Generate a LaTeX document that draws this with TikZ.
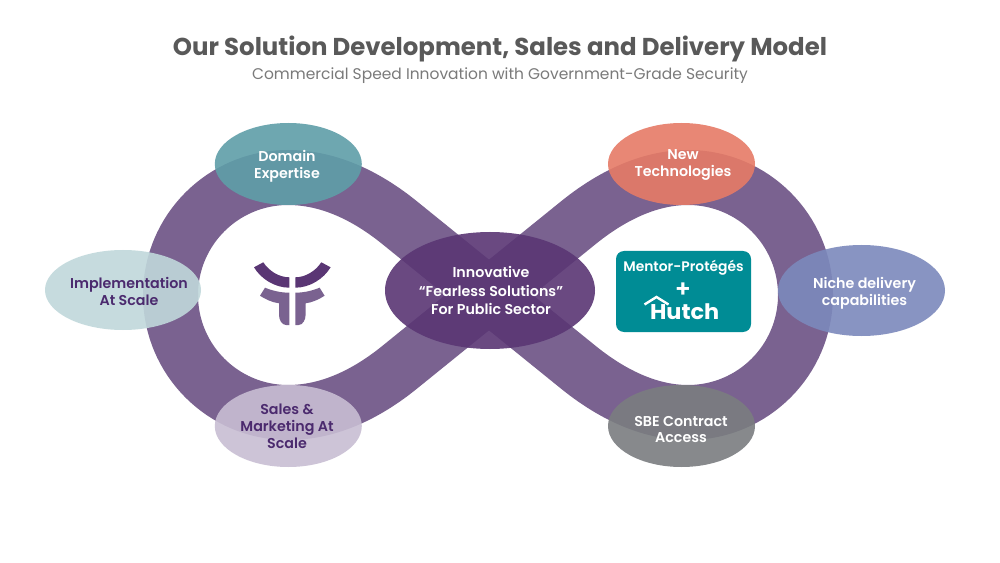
\documentclass[tikz,border=0pt]{standalone}
\usepackage{graphicx}
\usepackage{fontspec}
\setmainfont{Poppins}[BoldFont={Poppins SemiBold}]
\newfontfamily\titlefont{Poppins}[BoldFont={Poppins Bold}]
\usetikzlibrary{shapes.geometric}
\definecolor{bandc}{HTML}{7A6290}
\definecolor{darkp}{HTML}{5A3674}
\definecolor{inkp}{HTML}{4B2A6E}
\definecolor{tealb}{HTML}{008C95}
\definecolor{domc}{HTML}{5F9EA8}
\definecolor{newc}{HTML}{E67B66}
\definecolor{sbec}{HTML}{7A7D80}
\definecolor{nicc}{HTML}{7C89BC}
\definecolor{salc}{HTML}{C8BED3}
\definecolor{impc}{HTML}{C0D8DB}
\tikzset{
  lbl/.style={inner sep=0pt,align=center,font=\bfseries\fontsize{10.7}{#1}\selectfont},
  lbl/.default=12.7pt,
  band/.style={line width=41.25pt,draw=bandc,line cap=butt},
  glass/.style={fill opacity=.9},
}
\begin{document}
\begin{tikzpicture}[x=0.75pt,y=-0.75pt]
\useasboundingbox (0,0) rectangle (1000,563);
\fill[white] (0,0) rectangle (1000,563);
\node[font=\titlefont\bfseries\fontsize{18.3}{22}\selectfont,text=black!65] (title) at (500,48.5) {Our Solution Development, Sales and Delivery Model};
\node[font=\fontsize{11.6}{14}\selectfont,text=black!52] (sub) at (500,75.5) {Commercial Speed Innovation with Government-Grade Security};
% band
\draw[band] (170.5,297) -- (170.5,295) .. controls (170.5,230.1) and (223.1,177.5) .. (288,177.5) .. controls (330,177.5) and (368,197) .. (400,223) -- (489,295) -- (578,367) .. controls (610,393) and (648,412.5) .. (688,412.5) .. controls (752.9,412.5) and (805.5,359.9) .. (805.5,295) -- (805.5,293);
\draw[band] (170.5,293) -- (170.5,295) .. controls (170.5,359.9) and (223.1,412.5) .. (288,412.5) .. controls (330,412.5) and (368,393) .. (400,367) -- (489,295) -- (578,223) .. controls (610,197) and (648,177.5) .. (688,177.5) .. controls (752.9,177.5) and (805.5,230.1) .. (805.5,295) -- (805.5,297);
% ellipses
\fill[darkp,fill opacity=.9] (490,290.5) ellipse (105 and 58.5);
\fill[domc,glass] (288.3,164) ellipse (73.5 and 41);
\fill[salc,glass] (288.3,426) ellipse (73.5 and 41);
\fill[impc,glass] (123,290) ellipse (78 and 40);
\fill[newc,glass] (681.5,164) ellipse (73.5 and 41);
\fill[sbec,glass] (681.5,426) ellipse (73.5 and 41);
\fill[nicc,glass] (861.5,290.5) ellipse (83.5 and 45.5);
% labels
\node[lbl=13.9pt,text=white] (inno) at (491,290.5) {Innovative\\“Fearless Solutions”\\For Public Sector};
\node[lbl,text=white] (dom) at (287,166) {Domain\\Expertise};
\node[lbl,text=inkp] (sal) at (287,426.5) {Sales \&\\Marketing At\\Scale};
\node[lbl,text=inkp] (impl) at (129,291.5) {Implementation\\At Scale};
\node[lbl,text=white] (new) at (683,165) {New\\Technologies};
\node[lbl,text=white] (sbe) at (681,429.5) {SBE Contract\\Access};
\node[lbl,text=white] (nic) at (864.5,293) {Niche delivery\\capabilities};
% logo
\foreach \m/\o in {1/0,-1/584.6}{
  \begin{scope}[xshift=\o*0.75pt,xscale=\m]
  \fill[darkp] (254,267.3) .. controls (261,279) and (275,287.7) .. (289.3,287.7) -- (289.3,277.3) .. controls (279,277.3) and (269,271) .. (263.3,262.3) -- cycle;
  \fill[bandc] (260,295.7) -- (265,287.7) .. controls (272,290.5) and (280,292.7) .. (289.3,292.7) -- (289.3,325) -- (286,325) .. controls (282,325) and (279,320) .. (279,315) -- (279,303.3) .. controls (272,302.5) and (265,299) .. (260,295.7) -- cycle;
  \end{scope}
}
% hutch box
\node[fill=tealb,rounded corners=6pt,minimum width=101.25pt,minimum height=60.75pt,inner sep=0pt] (hbox) at (683.5,291.5) {};
\node[text=white,font=\bfseries\fontsize{10.4}{12}\selectfont] (mp) at (683.5,268) {Mentor-Protégés};
\node[text=white,font=\bfseries\fontsize{18}{18}\selectfont] (plus) at (683,290) {+};
\node[text=white,font=\titlefont\bfseries\fontsize{16}{16}\selectfont] (hut) at (684.7,312) {\scalebox{1.05}[1]{Hutch}};
\draw[white,line width=1.8pt,line join=miter] (644.5,304.5) -- (656.5,297) -- (668.5,304.5);
\end{tikzpicture}
\end{document}
